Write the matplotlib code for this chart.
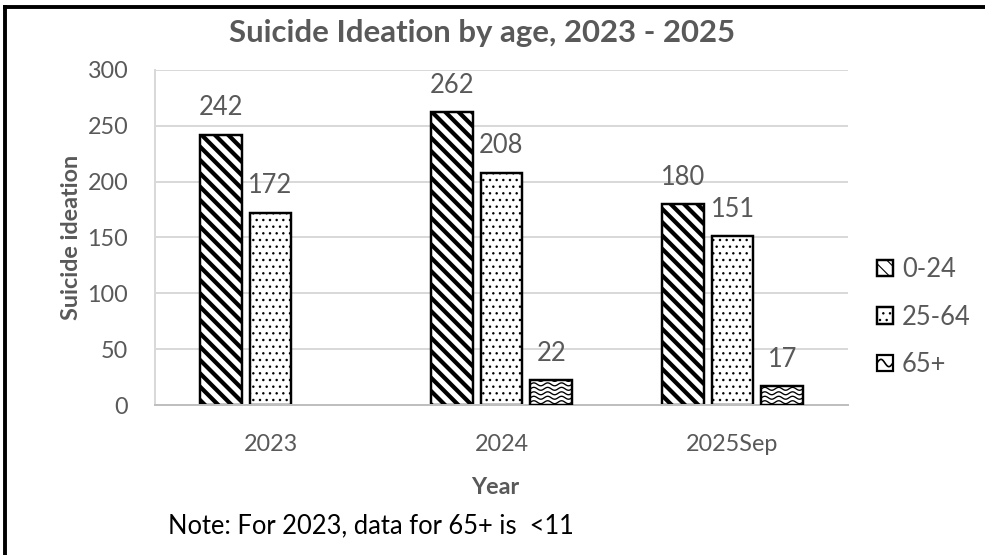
import numpy as np
import matplotlib
matplotlib.use("Agg")
import matplotlib.pyplot as plt
from matplotlib.patches import Rectangle
from matplotlib.lines import Line2D
from matplotlib.legend_handler import HandlerBase

years = ["2023", "2024", "2025Sep"]
groups = ["0-24", "25-64", "65+"]
counts_0_24 = [242, 262, 180]
counts_25_64 = [172, 208, 151]
counts_65 = [None, 22, 17]   # 2023 suppressed (<11)
note = "Note: For 2023, data for 65+ is  <11"

GRAY = "#595959"
plt.rcParams["font.family"] = ["Lato", "DejaVu Sans"]

fig = plt.figure(figsize=(985 / 80, 555 / 80), dpi=80)
ax = fig.add_axes([155 / 985, 150 / 555, 693 / 985, 335 / 555])

x = np.arange(len(years))
w = 0.18
step = 0.215


def wave_fill(ax, bar):
    # wavy hatching, clipped to the bar outline
    x0, y0 = bar.get_x(), bar.get_y()
    bw, bh = bar.get_width(), bar.get_height()
    xs = np.linspace(x0, x0 + bw, 80)
    amp = 1.3
    period = bw / 3.0
    yy = y0 + 2.5
    while yy < y0 + bh + 4:
        ln, = ax.plot(xs, yy + amp * np.sin(2 * np.pi * (xs - x0) / period),
                      color="black", lw=1.2, zorder=3)
        ln.set_clip_path(bar)
        yy += 4.0


with plt.rc_context({"hatch.linewidth": 3.8}):
    b1 = ax.bar(x - step, counts_0_24, w, facecolor="white", edgecolor="black",
                hatch="\\\\", lw=2.2, zorder=2, label=groups[0])
with plt.rc_context({"hatch.linewidth": 1.0}):
    b2 = ax.bar(x, counts_25_64, w, facecolor="white", edgecolor="black",
                hatch="..", lw=2.2, zorder=2, label=groups[1])

v65 = [np.nan if v is None else v for v in counts_65]
b3 = ax.bar(x + step, v65, w, facecolor="white", edgecolor="black",
            lw=2.2, zorder=4, label=groups[2])
for bar in b3:
    if np.isfinite(bar.get_height()):
        bar.set_facecolor("none")
        bg = Rectangle((bar.get_x(), bar.get_y()), bar.get_width(),
                       bar.get_height(), facecolor="white", edgecolor="none",
                       zorder=2)
        ax.add_patch(bg)
        wave_fill(ax, bg)

for bars, vals in [(b1, counts_0_24), (b2, counts_25_64), (b3, counts_65)]:
    for bar, v in zip(bars, vals):
        if v is None:
            continue
        ax.annotate(str(v), (bar.get_x() + bar.get_width() / 2, v),
                    xytext=(0, 13), textcoords="offset points",
                    ha="center", va="bottom", fontsize=23, color=GRAY)

ax.set_xlim(-0.5, 2.5)
ax.set_ylim(0, 300)
ax.set_yticks(range(0, 301, 50))
ax.set_xticks(x)
ax.set_xticklabels(years)
ax.tick_params(axis="both", length=0, labelsize=21, labelcolor=GRAY)
ax.tick_params(axis="y", pad=24)
ax.tick_params(axis="x", pad=26)
ax.yaxis.grid(True, color="#d9d9d9", lw=1.8, zorder=0)
ax.set_axisbelow(True)
for s in ["top", "right"]:
    ax.spines[s].set_visible(False)
ax.spines["left"].set_color("#d9d9d9")
ax.spines["left"].set_linewidth(1.8)
ax.spines["bottom"].set_color("#bfbfbf")
ax.spines["bottom"].set_linewidth(1.8)

fig.text(482 / 985, 1 - 33 / 555, "Suicide Ideation by age, 2023 - 2025",
         fontsize=28, fontweight="bold", color=GRAY, ha="center", va="center")
ax.set_ylabel("Suicide ideation", fontsize=21, fontweight="bold",
              color=GRAY, va="center")
ax.yaxis.set_label_coords((72 - 155) / 693, 0.5)
ax.set_xlabel("Year", fontsize=21, fontweight="bold", color=GRAY,
              va="center")
ax.xaxis.set_label_coords((495 - 155) / 693, (405 - 488) / 335)


class WaveHandler(HandlerBase):
    def create_artists(self, legend, orig_handle, xdescent, ydescent,
                       width, height, fontsize, trans):
        rect = Rectangle((-xdescent, -ydescent), width, height,
                         facecolor="white", edgecolor="black", lw=2,
                         transform=trans)
        xs = np.linspace(-xdescent, -xdescent + width, 30)
        ys = -ydescent + height / 2 + height * 0.22 * np.sin(
            2 * np.pi * xs / width)
        ln = Line2D(xs, ys, color="black", lw=1.5, transform=trans)
        return [rect, ln]


handles = [b1[0], b2[0], b3[0]]
leg = fig.legend(handles, groups, loc="center left",
                 bbox_to_anchor=(877 / 985, 1 - 317 / 555),
                 frameon=False, fontsize=23, labelcolor=GRAY, borderpad=0,
                 borderaxespad=0, handlelength=0.62, handleheight=0.62,
                 handletextpad=0.35, labelspacing=0.88,
                 handler_map={b3[0]: WaveHandler()})

fig.text(168 / 985, 1 - 526 / 555, note, fontsize=23, color="black",
         ha="left", va="center")

# frame lines along the top and left edges
fig.add_artist(Line2D([5 / 985, 1], [1 - 7 / 555, 1 - 7 / 555],
                      transform=fig.transFigure, color="black", lw=3.5))
fig.add_artist(Line2D([5 / 985, 5 / 985], [0, 1 - 7 / 555],
                      transform=fig.transFigure, color="black", lw=3.5))

fig.savefig("out.png", dpi=80, facecolor="white")
